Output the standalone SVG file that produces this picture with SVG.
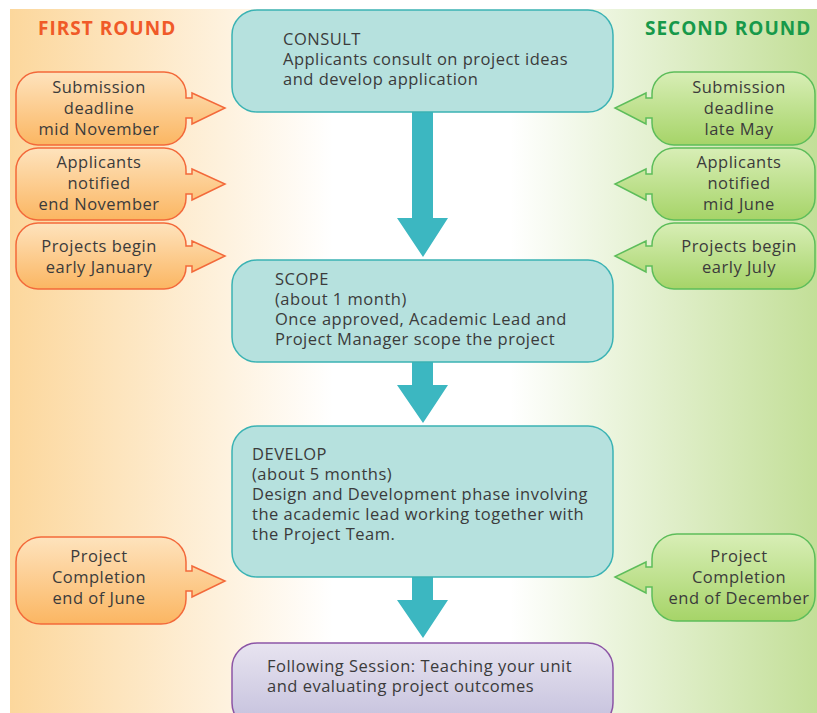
<svg xmlns="http://www.w3.org/2000/svg" width="817" height="713" viewBox="0 0 817 713">
<defs>
<linearGradient id="bg" x1="0" y1="0" x2="1" y2="0">
<stop offset="0" stop-color="#fcd79c"/>
<stop offset="0.4" stop-color="#ffffff"/>
<stop offset="0.62" stop-color="#ffffff"/>
<stop offset="1" stop-color="#c3df98"/>
</linearGradient>
<linearGradient id="og" x1="0" y1="0" x2="0" y2="1">
<stop offset="0" stop-color="#fee3bd"/>
<stop offset="1" stop-color="#fbb662"/>
</linearGradient>
<linearGradient id="gg" x1="0" y1="0" x2="0" y2="1">
<stop offset="0" stop-color="#d8eeb6"/>
<stop offset="1" stop-color="#a6d468"/>
</linearGradient>
<linearGradient id="pg" x1="0" y1="0" x2="0" y2="1">
<stop offset="0" stop-color="#e8e4f0"/>
<stop offset="1" stop-color="#c3bfdc"/>
</linearGradient>
</defs>
<style>
text{font-family:"Open Sans","Liberation Sans",Arial,sans-serif;font-size:16.5px;letter-spacing:0.5px;fill:#3b3b3b}
.c{text-anchor:middle}
.hd{font-weight:bold;font-size:19px;letter-spacing:1px}
.orange{fill:url(#og);stroke:#f3693a;stroke-width:1.5}
.green{fill:url(#gg);stroke:#5dbd5a;stroke-width:1.5}
.teal{fill:#b6e1de;stroke:#3bb3b4;stroke-width:1.5}
.purple{fill:url(#pg);stroke:#8c55a6;stroke-width:1.5}
.arr{fill:#3cb7c1}
</style>
<rect x="0" y="0" width="817" height="713" fill="#ffffff"/>
<rect x="10" y="9" width="807" height="704" fill="url(#bg)"/>
<text x="38" y="35" class="hd" style="fill:#f05a28">FIRST ROUND</text>
<text x="645" y="35" class="hd" style="fill:#17994a">SECOND ROUND</text>

<g id="connectors">
<path class="arr" d="M412,112 H433 V218 H448 L423,257 L397,218 H412 Z"/>
<path class="arr" d="M412,362 H433 V385 H448 L423,423 L397,385 H412 Z"/>
<path class="arr" d="M412,577 H433 V600 H448 L423,638 L397,600 H412 Z"/>
</g>

<g id="consult">
<rect class="teal" x="232" y="10" width="381" height="102" rx="25"/>
<text x="283" y="45">CONSULT</text>
<text x="283" y="65">Applicants consult on project ideas</text>
<text x="283" y="85">and develop application</text>
</g>
<g id="scope">
<rect class="teal" x="232" y="260" width="381" height="102" rx="25"/>
<text x="275" y="285">SCOPE</text>
<text x="275" y="305">(about 1 month)</text>
<text x="275" y="325">Once approved, Academic Lead and</text>
<text x="275" y="345">Project Manager scope the project</text>
</g>
<g id="develop">
<rect class="teal" x="232" y="426" width="381" height="151" rx="25"/>
<text x="252" y="460">DEVELOP</text>
<text x="252" y="480">(about 5 months)</text>
<text x="252" y="500">Design and Development phase involving</text>
<text x="252" y="520">the academic lead working together with</text>
<text x="252" y="540">the Project Team.</text>
</g>
<g id="following">
<rect class="purple" x="232" y="643" width="381" height="85" rx="25"/>
<text x="267" y="672">Following Session: Teaching your unit</text>
<text x="267" y="692">and evaluating project outcomes</text>
</g>

<g id="first-submission">
<path class="orange" d="M38,72 H164 A22,22 0 0 1 186,94 V98 H192 V93 L225,108 L192,124 V118 H186 V123 A22,22 0 0 1 164,145 H38 A22,22 0 0 1 16,123 V94 A22,22 0 0 1 38,72 Z"/>
<text class="c" x="99" y="93">Submission</text>
<text class="c" x="99" y="114">deadline</text>
<text class="c" x="99" y="135">mid November</text>
</g>
<g id="first-notified">
<path class="orange" d="M38,148 H164 A22,22 0 0 1 186,170 V174 H192 V169 L225,184 L192,200 V194 H186 V198 A22,22 0 0 1 164,220 H38 A22,22 0 0 1 16,198 V170 A22,22 0 0 1 38,148 Z"/>
<text class="c" x="99" y="168">Applicants</text>
<text class="c" x="99" y="189">notified</text>
<text class="c" x="99" y="210">end November</text>
</g>
<g id="first-begin">
<path class="orange" d="M38,223 H164 A22,22 0 0 1 186,245 V246 H192 V241 L225,256 L192,272 V266 H186 V267 A22,22 0 0 1 164,289 H38 A22,22 0 0 1 16,267 V245 A22,22 0 0 1 38,223 Z"/>
<text class="c" x="99" y="252">Projects begin</text>
<text class="c" x="99" y="273">early January</text>
</g>
<g id="first-completion">
<path class="orange" d="M41,537 H161 A25,25 0 0 1 186,562 V571 H192 V566 L225,581 L192,597 V591 H186 V599 A25,25 0 0 1 161,624 H41 A25,25 0 0 1 16,599 V562 A25,25 0 0 1 41,537 Z"/>
<text class="c" x="99" y="562">Project</text>
<text class="c" x="99" y="583">Completion</text>
<text class="c" x="99" y="604">end of June</text>
</g>

<g id="second-submission">
<path class="green" d="M674,72 H793 A22,22 0 0 1 815,94 V123 A22,22 0 0 1 793,145 H674 A22,22 0 0 1 652,123 V118 H646 V124 L615,108 L646,93 V98 H652 V94 A22,22 0 0 1 674,72 Z"/>
<text class="c" x="739" y="93">Submission</text>
<text class="c" x="739" y="114">deadline</text>
<text class="c" x="739" y="135">late May</text>
</g>
<g id="second-notified">
<path class="green" d="M674,148 H793 A22,22 0 0 1 815,170 V198 A22,22 0 0 1 793,220 H674 A22,22 0 0 1 652,198 V194 H646 V200 L615,184 L646,169 V174 H652 V170 A22,22 0 0 1 674,148 Z"/>
<text class="c" x="739" y="168">Applicants</text>
<text class="c" x="739" y="189">notified</text>
<text class="c" x="739" y="210">mid June</text>
</g>
<g id="second-begin">
<path class="green" d="M674,223 H793 A22,22 0 0 1 815,245 V267 A22,22 0 0 1 793,289 H674 A22,22 0 0 1 652,267 V266 H646 V272 L615,256 L646,241 V246 H652 V245 A22,22 0 0 1 674,223 Z"/>
<text class="c" x="739" y="252">Projects begin</text>
<text class="c" x="739" y="273">early July</text>
</g>
<g id="second-completion">
<path class="green" d="M677,534 H790 A25,25 0 0 1 815,559 V596 A25,25 0 0 1 790,621 H677 A25,25 0 0 1 652,596 V587 H646 V593 L615,577 L646,562 V567 H652 V559 A25,25 0 0 1 677,534 Z"/>
<text class="c" x="739" y="562">Project</text>
<text class="c" x="739" y="583">Completion</text>
<text class="c" x="739" y="604">end of December</text>
</g>
</svg>
